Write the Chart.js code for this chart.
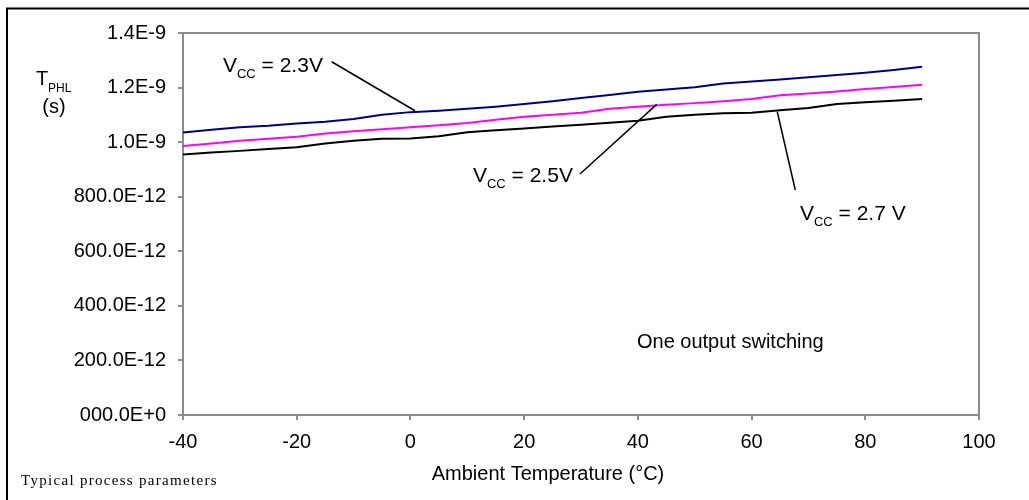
<!DOCTYPE html>
<html>
<head>
<meta charset="utf-8">
<script src="https://cdn.jsdelivr.net/npm/chart.js@4"></script>
<style>
  html, body { margin: 0; padding: 0; background: #fff; }
  #wrap { width: 1029px; height: 500px; position: relative; }
</style>
</head>
<body>
<div id="wrap"><canvas id="tphl"></canvas></div>
<script>
// ambient temperature (°C)
const temps = [-40, -35, -30, -25, -20, -15, -10, -5, 0, 5, 10, 15, 20, 25, 30, 35, 40, 45, 50, 55, 60, 65, 70, 75, 80, 85, 90];

// propagation delay in ns for each supply voltage
const vcc23 = [1.035, 1.045, 1.055, 1.060, 1.068, 1.075, 1.085, 1.100, 1.110, 1.115, 1.122, 1.130, 1.140, 1.150, 1.162, 1.173, 1.185, 1.193, 1.201, 1.215, 1.222, 1.230, 1.238, 1.246, 1.254, 1.264, 1.276];
const vcc25 = [0.986, 0.995, 1.005, 1.012, 1.020, 1.032, 1.040, 1.047, 1.055, 1.062, 1.070, 1.082, 1.093, 1.100, 1.108, 1.122, 1.130, 1.137, 1.143, 1.150, 1.158, 1.172, 1.178, 1.186, 1.195, 1.202, 1.210];
const vcc27 = [0.955, 0.962, 0.968, 0.975, 0.981, 0.995, 1.005, 1.012, 1.013, 1.022, 1.036, 1.044, 1.050, 1.057, 1.064, 1.071, 1.078, 1.093, 1.100, 1.106, 1.108, 1.117, 1.125, 1.140, 1.146, 1.152, 1.158];

const yTickLabels = ['000.0E+0', '200.0E-12', '400.0E-12', '600.0E-12', '800.0E-12', '1.0E-9', '1.2E-9', '1.4E-9'];

const GRAY = '#8c8c8c';
const SANS = '"Liberation Sans", Arial, sans-serif';

// callouts, in data units: text anchor and leader line
const callouts = [
  { sub: 'CC', tail: ' = 2.3V', at: [-32.97, 1.257], from: [-13.85, 1.2946], to: [0.8, 1.115] },
  { sub: 'CC', tail: ' = 2.5V', at: [11.0, 0.854], from: [29.82, 0.8831], to: [43.31, 1.1385] },
  { sub: 'CC', tail: ' = 2.7 V', at: [68.51, 0.7146], from: [64.52, 1.1114], to: [67.69, 0.8245] },
];

const toXY = (chart, p) => [chart.scales.x.getPixelForValue(p[0]), chart.scales.y.getPixelForValue(p[1])];

const overlay = {
  id: 'overlay',
  afterDraw(chart) {
    const ctx = chart.ctx;
    const a = chart.chartArea;
    ctx.save();

    // outer frame (left and top edges only)
    ctx.strokeStyle = '#000';
    ctx.lineWidth = 2;
    ctx.beginPath();
    ctx.moveTo(7, chart.height);
    ctx.lineTo(7, 8.5);
    ctx.lineTo(chart.width, 8.5);
    ctx.stroke();

    // plot box top and right
    ctx.strokeStyle = GRAY;
    ctx.lineWidth = 2;
    ctx.beginPath();
    ctx.moveTo(a.left, a.top);
    ctx.lineTo(a.right, a.top);
    ctx.lineTo(a.right, a.bottom);
    ctx.stroke();

    ctx.fillStyle = '#000';
    ctx.textBaseline = 'alphabetic';
    ctx.textAlign = 'left';

    // callouts
    callouts.forEach((c) => {
      const [fx, fy] = toXY(chart, c.from);
      const [tx, ty] = toXY(chart, c.to);
      ctx.strokeStyle = '#000';
      ctx.lineWidth = 1.5;
      ctx.beginPath();
      ctx.moveTo(fx, fy);
      ctx.lineTo(tx, ty);
      ctx.stroke();

      let [x, y] = toXY(chart, c.at);
      ctx.font = '21px ' + SANS;
      ctx.fillText('V', x, y);
      x += ctx.measureText('V').width;
      ctx.font = '13px ' + SANS;
      ctx.fillText(c.sub, x, y + 6);
      x += ctx.measureText(c.sub).width;
      ctx.font = '21px ' + SANS;
      ctx.fillText(c.tail, x, y);
    });

    // note inside the plot
    ctx.font = '20px ' + SANS;
    const [nx, ny] = toXY(chart, [39.84, 0.2455]);
    ctx.fillText('One output switching', nx, ny);

    // y axis title
    ctx.font = '20px ' + SANS;
    ctx.fillText('T', 36, 85);
    ctx.font = '12px ' + SANS;
    ctx.fillText('PHL', 48, 92);
    ctx.font = '20px ' + SANS;
    ctx.textAlign = 'center';
    ctx.fillText('(s)', 54, 113);

    // x axis title
    ctx.fillText('Ambient Temperature (°C)', 548, 480);

    // footnote
    ctx.textAlign = 'left';
    ctx.font = '15px "Liberation Serif", "Times New Roman", serif';
    ctx.letterSpacing = '1.3px';
    ctx.fillText('Typical process parameters', 21, 485);
    ctx.restore();
  },
};

const series = (label, data, color) => ({
  label,
  data: temps.map((t, i) => ({ x: t, y: data[i] })),
  borderColor: color,
  borderWidth: 2,
  pointRadius: 0,
  tension: 0,
  fill: false,
});

new Chart(document.getElementById('tphl'), {
  type: 'line',
  data: {
    datasets: [
      series('VCC = 2.3V', vcc23, '#000080'),
      series('VCC = 2.5V', vcc25, '#ff00ff'),
      series('VCC = 2.7 V', vcc27, '#000000'),
    ],
  },
  options: {
    responsive: true,
    maintainAspectRatio: false,
    animation: false,
    layout: { padding: { left: 0, right: 50, top: 33, bottom: 0 } },
    plugins: { legend: { display: false }, tooltip: { enabled: false } },
    scales: {
      x: {
        type: 'linear',
        min: -40,
        max: 100,
        afterFit: (s) => { s.height = 85; },
        border: { display: true, color: GRAY, width: 2 },
        grid: { drawOnChartArea: false, drawTicks: true, tickLength: 5, color: GRAY, lineWidth: 2 },
        ticks: { stepSize: 20, color: '#000', padding: 10, font: { family: SANS, size: 20 } },
      },
      y: {
        min: 0,
        max: 1.4,
        afterFit: (s) => { s.width = 183; },
        border: { display: true, color: GRAY, width: 2 },
        grid: { drawOnChartArea: false, drawTicks: true, tickLength: 5, color: GRAY, lineWidth: 2 },
        ticks: {
          stepSize: 0.2,
          color: '#000',
          padding: 12,
          font: { family: SANS, size: 20 },
          callback: (v, i) => yTickLabels[i],
        },
      },
    },
  },
  plugins: [overlay],
});
</script>
</body>
</html>
